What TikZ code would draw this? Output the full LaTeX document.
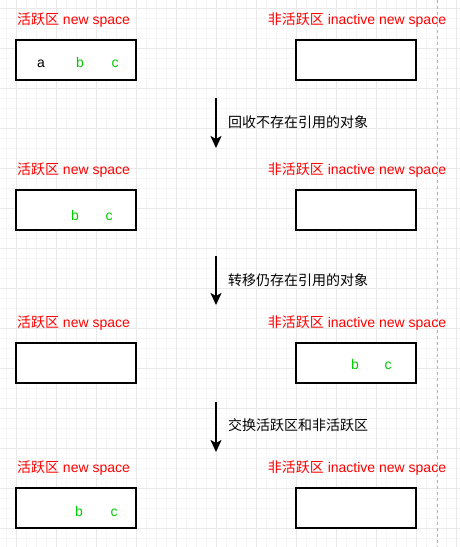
\documentclass[tikz,border=0pt]{standalone}
\usepackage{fontspec}
\setmainfont{Liberation Sans}
\newfontfamily\cjk{Noto Sans CJK SC}
\usepackage{xcolor}
\usepackage{tikz}
\usetikzlibrary{arrows.meta}
\definecolor{lblred}{RGB}{255,0,0}
\definecolor{objgreen}{RGB}{0,204,0}

\begin{document}
\begin{tikzpicture}[x=1pt, y=-1pt,
    area/.style={draw, line width=2pt, fill=white, minimum width=120pt, minimum height=40pt, inner sep=0pt},
    title/.style={text=lblred, font=\fontsize{14}{16}\selectfont, inner sep=0pt},
    letter/.style={anchor=base, font=\fontsize{14}{16}\selectfont, inner sep=0pt},
    obj/.style={letter, text=objgreen},
    stepnote/.style={anchor=west, font=\cjk\fontsize{14}{16}\selectfont, inner sep=0pt},
    flow/.style={line width=2pt, -{Stealth[length=12pt, width=11pt, inset=3pt]}}]
            \useasboundingbox (0,0) rectangle (460,547);
            % background grid
            \foreach \gx in {6,16,...,456} \draw[gray!7, line width=0.8pt] (\gx,0) -- (\gx,547);
            \foreach \gy in {8,18,...,547} \draw[gray!7, line width=0.8pt] (0,\gy) -- (460,\gy);
            \foreach \gx in {16,56,...,456} \draw[gray!17, line width=0.8pt] (\gx,0) -- (\gx,547);
            \foreach \gy in {8,48,...,547} \draw[gray!17, line width=0.8pt] (0,\gy) -- (460,\gy);
            \draw[gray!60, dashed, line width=0.8pt] (437,0) -- (437,547);

            % row 1
            \node at (73.5,20) [title] (act1) {{\cjk 活跃区} new space};
            \node at (357,20) [title] (inact1) {{\cjk 非活跃区} inactive new space};
            \node at (76,60) [area] (box1) {};
            \node at (356,60) [area] (ibox1) {};
            \node at (41,67) [letter] (a1) {a};
            \node at (80,67) [obj] (b1) {b};
            \node at (115,67) [obj] (c1) {c};
            \coordinate (s1) at (216,98);
            \coordinate (e1) at (216,148);
            \draw[flow] (s1) -- (e1);
            \node at (228,122) [stepnote] (n1) {回收不存在引用的对象};

            % row 2
            \node at (73.5,170) [title] (act2) {{\cjk 活跃区} new space};
            \node at (357,170) [title] (inact2) {{\cjk 非活跃区} inactive new space};
            \node at (76,210) [area] (box2) {};
            \node at (356,210) [area] (ibox2) {};
            \node at (75,220) [obj] (b2) {b};
            \node at (109,220) [obj] (c2) {c};
            \coordinate (s2) at (216,256);
            \coordinate (e2) at (216,305);
            \draw[flow] (s2) -- (e2);
            \node at (228,280) [stepnote] (n2) {转移仍存在引用的对象};

            % row 3
            \node at (73.5,323) [title] (act3) {{\cjk 活跃区} new space};
            \node at (357,323) [title] (inact3) {{\cjk 非活跃区} inactive new space};
            \node at (76,363) [area] (box3) {};
            \node at (356,363) [area] (ibox3) {};
            \node at (355,369) [obj] (b3) {b};
            \node at (388,369) [obj] (c3) {c};
            \coordinate (s3) at (216,402);
            \coordinate (e3) at (216,452);
            \draw[flow] (s3) -- (e3);
            \node at (228,425) [stepnote] (n3) {交换活跃区和非活跃区};

            % row 4
            \node at (73.5,468) [title] (act4) {{\cjk 活跃区} new space};
            \node at (357,468) [title] (inact4) {{\cjk 非活跃区} inactive new space};
            \node at (76,508) [area] (box4) {};
            \node at (356,508) [area] (ibox4) {};
            \node at (79,516) [obj] (b4) {b};
            \node at (114,516) [obj] (c4) {c};
        \end{tikzpicture}
\end{document}
